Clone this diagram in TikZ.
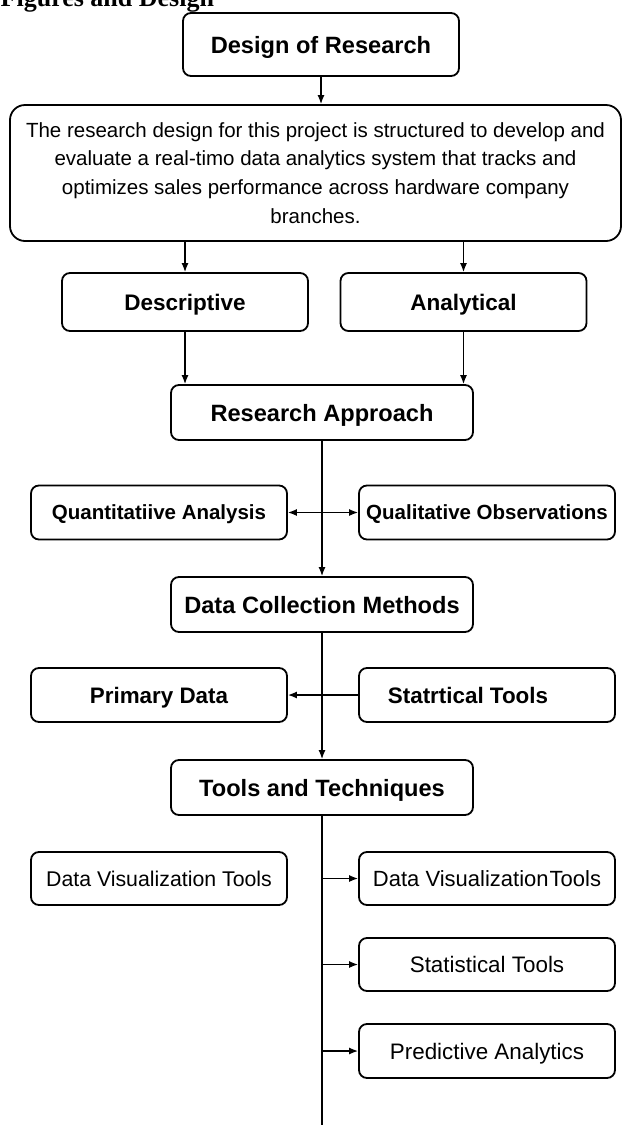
\documentclass[tikz,border=0pt]{standalone}
\usepackage{fontspec}
\setmainfont{Liberation Serif}
\setsansfont{Liberation Sans}
\usepackage{tikz}
\usetikzlibrary{arrows.meta,positioning,calc}

\begin{document}
\begin{tikzpicture}[x=1pt,y=-1pt,
    line width=1.4pt,
    >={Latex[length=9pt,width=7pt]},
    box/.style={draw,rounded corners=8pt,line width=1.8pt,inner sep=0pt,align=center},
    onebox/.style={box,text depth=0pt},
    headbox/.style={onebox,minimum width=302pt,minimum height=55pt,
      font=\sffamily\bfseries\fontsize{23.6}{28}\selectfont},
    sidebox/.style={onebox,minimum width=256pt,minimum height=54pt},
    boldtxt/.style={font=\sffamily\bfseries\fontsize{#1}{#1}\selectfont},
    plaintxt/.style={font=\sffamily\fontsize{#1}{#1}\selectfont}]
    \useasboundingbox (0,0) rectangle (622,1125);

    \node[anchor=base west,inner sep=0pt,font=\rmfamily\bfseries\fontsize{26}{30}\selectfont]
      (title) at (0,6) {Figures and Design};

    % top of the chart
    \node[headbox,minimum width=276pt,minimum height=63pt] (design) at (321,44.5) {Design of Research};
    \node[box,rounded corners=15pt,minimum width=611pt,minimum height=136pt,
      font=\sffamily\fontsize{20.5}{28.7}\selectfont] (overview) at (315.5,173)
      {The research design for this project is structured to develop and\\
       evaluate a real-timo data analytics system that tracks and\\
       optimizes sales performance across hardware company\\
       branches.};
    \node[onebox,boldtxt=22.5,minimum width=246pt,minimum height=58pt] (descr) at (185,302) {Descriptive};
    \node[onebox,boldtxt=22.5,minimum width=246pt,minimum height=58pt] (analyt) at (463.5,302) {Analytical};

    % spine
    \node[headbox] (approach) at (322,412.5) {Research Approach};
    \node[sidebox,boldtxt=20.5] (quant) at (159,512.5) {Quantitatiive Analysis};
    \node[sidebox,boldtxt=20.5] (qual) at (487,512.5) {Qualitative Observations};
    \node[headbox] (collect) at (322,604.5) {Data Collection Methods};
    \node[sidebox,boldtxt=22.4] (primary) at (159,695) {Primary Data};
    \node[sidebox,boldtxt=22.4] (statr) at (487,695) {\hspace*{-38pt}Statrtical Tools};
    \node[headbox] (tools) at (322,787.5) {Tools and Techniques};

    % tools
    \node[sidebox,plaintxt=21.3,minimum height=53pt] (vizL) at (159,878.5) {Data Visualization Tools};
    \node[sidebox,plaintxt=22,minimum height=53pt] (vizR) at (487,878.5) {Data Visualization\hspace{1pt}Tools};
    \node[sidebox,plaintxt=22.4,minimum height=53pt] (stats) at (487,964.5) {Statistical Tools};
    \node[sidebox,plaintxt=22.4,minimum height=54pt] (predict) at (487,1051) {Predictive Analytics};
    \coordinate (spineend) at (322,1125);

    \draw[->] (design.south) -- (design.south |- overview.north);
    \foreach \n in {descr,analyt}{
      \draw[->] (overview.south -| \n.north) -- (\n.north);
      \draw[->] (\n.south) -- (\n.south |- approach.north);
    }
    \draw[->] (approach.south) -- (collect.north);
    \draw[<->] (quant.east) -- (qual.west);
    \draw[->] (collect.south) -- (tools.north);
    \draw[->] (statr.west) -- (primary.east);
    \draw (tools.south) -- (spineend);
    \foreach \n in {vizR,stats,predict}
      \draw[->] (\n.west -| tools.south) -- (\n.west);
\end{tikzpicture}
\end{document}
